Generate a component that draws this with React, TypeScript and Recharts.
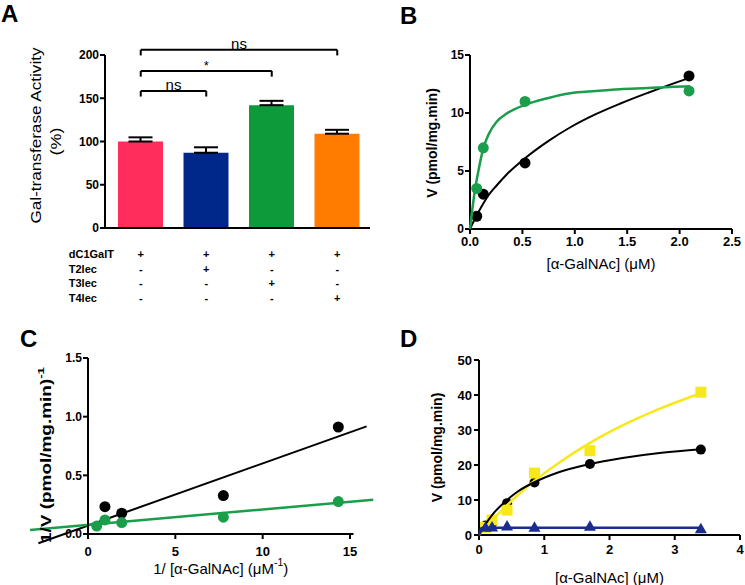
import { BarChart, Bar, Cell, ErrorBar, XAxis, YAxis, ReferenceLine, ScatterChart, Scatter } from 'recharts';

const FONT = '"Liberation Sans", Arial, sans-serif';

// ---- panel A : activity bars
const groups = ['ctrl', 'T2', 'T3', 'T4'];
const activity = [100, 87, 142, 109];
const activitySem = [4.8, 6.3, 5.0, 4.5];
const barColors = ['#ff2d5b', '#00288a', '#0c9a3a', '#ff7c00'];
const activityTicks = [0, 50, 100, 150, 200];
const rowLabels = ['dC1GalT', 'T2lec', 'T3lec', 'T4lec'];
const rowSigns = [
  ['+', '+', '+', '+'],
  ['-', '+', '-', '-'],
  ['-', '-', '+', '-'],
  ['-', '-', '-', '+'],
];
const brackets = [
  { from: 'ctrl', to: 'T4', y: 206, text: 'ns' },
  { from: 'ctrl', to: 'T3', y: 181.5, text: '*' },
  { from: 'ctrl', to: 'T2', y: 158.5, text: 'ns' },
];
const bracketDrop = 6.5;

// ---- panel B : Michaelis-Menten
const bConc = [0.064, 0.127, 0.525, 2.09];
const bBlack = [1.1, 3.0, 5.7, 13.2];
const bGreen = [3.5, 7.0, 11.0, 11.9];
const bFitX = [0, 0.048, 0.08, 0.127, 0.18, 0.254, 0.35, 0.525, 0.75, 0.954, 1.2, 1.43, 1.7, 1.91, 2.1];
const bFitBlack = [0, 0.9, 1.45, 2.2, 2.95, 3.75, 4.7, 6.1, 7.6, 8.75, 9.9, 10.8, 11.75, 12.45, 13.05];
const bFitGreen = [0, 3.4, 5.0, 6.95, 8.2, 9.25, 9.95, 10.7, 11.3, 11.7, 11.9, 12.05, 12.15, 12.25, 12.3];
const bXTicks = [0, 0.5, 1, 1.5, 2, 2.5];
const bYTicks = [0, 5, 10, 15];

// ---- panel C : Lineweaver-Burk
const cBlackX = [0.97, 1.93, 7.75, 14.33];
const cBlackY = [0.233, 0.177, 0.328, 0.912];
const cGreenX = [0.5, 0.97, 1.93, 7.75, 14.33];
const cGreenY = [0.068, 0.12, 0.097, 0.143, 0.276];
const cBlackFit = [{ x: -2.84, y: -0.079 }, { x: 15.95, y: 0.917 }];
const cGreenFit = [{ x: -3.32, y: 0.034 }, { x: 16.33, y: 0.292 }];
const cXTicks = [0, 5, 10, 15];
const cYTicks = [0, 0.5, 1, 1.5];

// ---- panel D : three enzymes
const dConc = [0.1, 0.2, 0.43, 0.85, 1.7, 3.4];
const dBlack = [2.7, 3.3, 9.1, 15.0, 20.3, 24.4];
const dYellow = [2.2, 4.3, 7.1, 17.7, 24.1, 40.8];
const dBlue = [2.2, 2.3, 2.6, 2.2, 2.5, 1.8];
const dFitX = [0, 0.1, 0.2, 0.43, 0.6, 0.85, 1.2, 1.7, 2.2, 2.8, 3.4];
const dFitBlack = [0, 3.1, 5.7, 10.0, 12.5, 15.1, 17.8, 20.3, 22.0, 23.5, 24.5];
const dFitYellow = [0, 2.2, 4.2, 8.5, 11.5, 15.5, 20.3, 26.3, 31.3, 36.3, 40.5];
const dBlueFitX = [0, 0.03, 0.06, 3.4];
const dBlueFitY = [0, 1.9, 2.1, 2.1];
const dXTicks = [0, 1, 2, 3, 4];
const dYTicks = [0, 10, 20, 30, 40, 50];

const GREEN = '#1b9e4b';
const YELLOW = '#f7e81a';
const NAVY = '#1a2d8f';

const zip = (xs: number[], ys: number[]) => xs.map((x, i) => ({ x, y: ys[i] }));

const barData = groups.map((g, i) => ({ g, v: activity[i], err: [0, activitySem[i]] }));

const axisLine = { stroke: '#000', strokeWidth: 2 };
const tickLine = { stroke: '#000', strokeWidth: 2 };

// bold numeric tick, GraphPad style
const NumTick = (props: any) => {
  const { x, y, payload, size, digits, side } = props;
  const label = digits != null ? Number(payload.value).toFixed(digits) : String(payload.value);
  return (
    <text x={x} y={y} dy={side === 'bottom' ? '0.72em' : '0.36em'} textAnchor={side === 'bottom' ? 'middle' : 'end'}
      fontFamily={FONT} fontSize={size} fontWeight={700} fill="#000">{label}</text>
  );
};

type Part = { t: string; sup?: boolean };
type TitleLine = { parts: Part[]; dist: number; shift?: number; size: number; bold?: boolean; length?: number };

const renderParts = (parts: Part[], size: number) => {
  let up = false;
  return parts.map((p, i) => {
    let dy = 0;
    if (p.sup && !up) { dy = -size * 0.4; up = true; }
    else if (!p.sup && up) { dy = size * 0.4; up = false; }
    return (
      <tspan key={i} dy={dy} fontSize={p.sup ? size * 0.7 : size}>{p.t}</tspan>
    );
  });
};

const YTitle = ({ viewBox, lines }: { viewBox?: any; lines: TitleLine[] }) => {
  if (!viewBox) return null;
  return (
    <g>
      {lines.map((ln, i) => {
        const cx = viewBox.x + viewBox.width - ln.dist;
        const cy = viewBox.y + viewBox.height / 2 + (ln.shift || 0);
        return (
          <text key={i} x={cx} y={cy} transform={`rotate(-90 ${cx} ${cy})`} textAnchor="middle"
            dominantBaseline="central" fontFamily={FONT} fontSize={ln.size} fontWeight={ln.bold ? 700 : 400}
            fill="#000" textLength={ln.length} lengthAdjust={ln.length ? 'spacingAndGlyphs' : undefined}>
            {renderParts(ln.parts, ln.size)}
          </text>
        );
      })}
    </g>
  );
};

const XTitle = ({ viewBox, line }: { viewBox?: any; line: TitleLine }) => {
  if (!viewBox) return null;
  const cx = viewBox.x + viewBox.width / 2 + (line.shift || 0);
  const cy = viewBox.y + line.dist;
  return (
    <text x={cx} y={cy} textAnchor="middle" dominantBaseline="central" fontFamily={FONT}
      fontSize={line.size} fontWeight={line.bold ? 700 : 400} fill="#000">
      {renderParts(line.parts, line.size)}
    </text>
  );
};

const SignTick = (props: any) => {
  const { x, y, payload } = props;
  const col = groups.indexOf(payload.value);
  const style = { fontFamily: FONT, fontSize: 11, fontWeight: 700, fill: '#000' };
  return (
    <g>
      {col === 0 && rowLabels.map((lab, r) => (
        <text key={lab} x={x - 72} y={y + 30 + r * 14.6} {...style}>{lab}</text>
      ))}
      {rowSigns.map((row, r) => (
        <text key={r} x={x} y={y + 30 + r * 14.6} textAnchor="middle" {...style}>{row[col]}</text>
      ))}
    </g>
  );
};

const dot = (color: string, r = 5.5) => (p: any) => <circle cx={p.cx} cy={p.cy} r={r} fill={color} />;
const square = (color: string) => (p: any) => <rect x={p.cx - 5.5} y={p.cy - 5.5} width={11} height={11} fill={color} />;
const triangle = (color: string) => (p: any) => (
  <polygon points={`${p.cx},${p.cy - 6} ${p.cx - 6},${p.cy + 4.5} ${p.cx + 6},${p.cy + 4.5}`} fill={color} />
);
const noMark = () => <g />;

const panelLetter = (text: string, left: number, top: number) => (
  <div style={{ position: 'absolute', left, top, fontFamily: FONT, fontWeight: 700, fontSize: 24, lineHeight: '24px' }}>{text}</div>
);

const PanelA = () => (
  <BarChart width={380} height={310} data={barData} margin={{ top: 55, right: 10, left: 0, bottom: 0 }}>
    <XAxis dataKey="g" height={82} padding={{ left: 3, right: 0 }} axisLine={axisLine} tickLine={false}
      tickSize={0} tickMargin={0} interval={0} tick={<SignTick />} />
    <XAxis xAxisId="front" dataKey="g" hide padding={{ left: 3, right: 0 }} />
    <YAxis domain={[0, 200]} ticks={activityTicks} width={105} axisLine={axisLine}
      tickLine={tickLine} tickSize={5} tickMargin={1} interval={0}
      tick={<NumTick size={12} side="left" />}
      label={<YTitle lines={[
        { parts: [{ t: 'Gal-transferase Activity' }], dist: 69, shift: -6, size: 14.5, length: 176 },
        { parts: [{ t: '(%)' }], dist: 49, shift: 0, size: 14.5, length: 28 },
      ]} />} />
    <Bar dataKey="v" barSize={45} fill="transparent" isAnimationActive={false}>
      <ErrorBar dataKey="err" width={12} strokeWidth={2} stroke="#000" direction="y" isAnimationActive={false} />
    </Bar>
    <Bar dataKey="v" xAxisId="front" barSize={45} isAnimationActive={false}>
      {barData.map((d, i) => <Cell key={d.g} fill={barColors[i]} />)}
    </Bar>
    {brackets.map((b) => (
      <ReferenceLine key={b.to} segment={[{ x: b.from, y: b.y }, { x: b.to, y: b.y }]} stroke="#000"
        strokeWidth={2} ifOverflow="visible"
        label={{ value: b.text, position: 'top', offset: 1, fontSize: b.text === '*' ? 13 : 15, fill: '#000', fontFamily: FONT }} />
    ))}
    {brackets.map((b) => (
      <ReferenceLine key={b.to + 'l'} segment={[{ x: b.from, y: b.y }, { x: b.from, y: b.y - bracketDrop }]}
        stroke="#000" strokeWidth={2} ifOverflow="visible" />
    ))}
    {brackets.map((b) => (
      <ReferenceLine key={b.to + 'r'} segment={[{ x: b.to, y: b.y }, { x: b.to, y: b.y - bracketDrop }]}
        stroke="#000" strokeWidth={2} ifOverflow="visible" />
    ))}
  </BarChart>
);

const PanelB = () => (
  <ScatterChart width={365} height={300} margin={{ top: 55, right: 13, left: 0, bottom: 0 }}>
    <XAxis dataKey="x" type="number" domain={[0, 2.5]} ticks={bXTicks} height={71} axisLine={axisLine}
      tickLine={tickLine} tickSize={5} tickMargin={3} interval={0}
      tick={<NumTick size={13} side="bottom" digits={1} />}
      label={<XTitle line={{ parts: [{ t: '[α-GalNAc] (μM)' }], dist: 34, size: 15 }} />} />
    <YAxis dataKey="y" type="number" domain={[0, 15]} ticks={bYTicks} width={90} axisLine={axisLine}
      tickLine={tickLine} tickSize={5} tickMargin={1} interval={0} tick={<NumTick size={12} side="left" />}
      label={<YTitle lines={[{ parts: [{ t: 'V (pmol/mg.min)' }], dist: 38, shift: 1, size: 14, bold: true }]} />} />
    <Scatter data={zip(bConc, bBlack)} shape={dot('#000')} isAnimationActive={false} />
    <Scatter data={zip(bFitX, bFitBlack)} shape={noMark} line={{ stroke: '#000', strokeWidth: 2 }}
      lineJointType="monotoneX" isAnimationActive={false} />
    <Scatter data={zip(bConc, bGreen)} shape={dot(GREEN)} isAnimationActive={false} />
    <Scatter data={zip(bFitX, bFitGreen)} shape={noMark} line={{ stroke: GREEN, strokeWidth: 2.5 }}
      lineJointType="monotoneX" isAnimationActive={false} />
  </ScatterChart>
);

const PanelC = () => (
  <ScatterChart width={380} height={285} margin={{ top: 58, right: 26.5, left: 0, bottom: 0 }}>
    <XAxis dataKey="x" type="number" domain={[0, 15.2]} ticks={cXTicks} height={51} axisLine={axisLine}
      tickLine={tickLine} tickSize={5} tickMargin={8} interval={0} tick={<NumTick size={13} side="bottom" />}
      label={<XTitle line={{ parts: [{ t: '1/ [α-GalNAc] (μM' }, { t: '-1', sup: true }, { t: ')' }], dist: 34, size: 15 }} />} />
    <YAxis dataKey="y" type="number" domain={[0, 1.5]} ticks={cYTicks} width={88} axisLine={axisLine}
      tickLine={tickLine} tickSize={5} tickMargin={1} interval={0}
      tick={<NumTick size={12} side="left" digits={1} />}
      label={<YTitle lines={[{ parts: [{ t: '1/V (pmol/mg.min)' }, { t: '-1', sup: true }], dist: 42, shift: 9, size: 14, bold: true, length: 176 }]} />} />
    <Scatter data={zip(cBlackX, cBlackY)} shape={dot('#000')} isAnimationActive={false} />
    <Scatter data={zip(cGreenX, cGreenY)} shape={dot(GREEN)} isAnimationActive={false} />
    <ReferenceLine segment={cBlackFit} stroke="#000" strokeWidth={2} ifOverflow="visible" />
    <ReferenceLine segment={cGreenFit} stroke={GREEN} strokeWidth={2.5} ifOverflow="visible" />
  </ScatterChart>
);

const PanelD = () => (
  <ScatterChart width={365} height={285} margin={{ top: 60, right: 5, left: 0, bottom: 0 }}>
    <XAxis dataKey="x" type="number" domain={[0, 4]} ticks={dXTicks} height={50} axisLine={axisLine}
      tickLine={tickLine} tickSize={5} tickMargin={5} interval={0} tick={<NumTick size={13} side="bottom" />}
      label={<XTitle line={{ parts: [{ t: '[α-GalNAc] (μM)' }], dist: 42, size: 15 }} />} />
    <YAxis dataKey="y" type="number" domain={[0, 50]} ticks={dYTicks} width={99} axisLine={axisLine}
      tickLine={tickLine} tickSize={5} tickMargin={2} interval={0} tick={<NumTick size={13} side="left" />}
      label={<YTitle lines={[{ parts: [{ t: 'V (pmol/mg.min)' }], dist: 42, shift: 0, size: 14, bold: true }]} />} />
    <Scatter data={zip(dConc, dBlack)} shape={dot('#000', 5)} isAnimationActive={false} />
    <Scatter data={zip(dConc, dYellow)} shape={square(YELLOW)} isAnimationActive={false} />
    <Scatter data={zip(dFitX, dFitYellow)} shape={noMark} line={{ stroke: YELLOW, strokeWidth: 2.5 }}
      lineJointType="monotoneX" isAnimationActive={false} />
    <Scatter data={zip(dFitX, dFitBlack)} shape={noMark} line={{ stroke: '#000', strokeWidth: 2 }}
      lineJointType="monotoneX" isAnimationActive={false} />
    <Scatter data={zip(dConc, dBlue)} shape={triangle(NAVY)} isAnimationActive={false} />
    <Scatter data={zip(dBlueFitX, dBlueFitY)} shape={noMark} line={{ stroke: NAVY, strokeWidth: 2.5 }}
      isAnimationActive={false} />
  </ScatterChart>
);

const App = () => (
  <div style={{ position: 'absolute', left: 0, top: 0, width: 745, height: 585, background: '#fff', overflow: 'hidden' }}>
    <div style={{ position: 'absolute', left: 0, top: 0 }}><PanelA /></div>
    <div style={{ position: 'absolute', left: 380, top: 0 }}><PanelB /></div>
    <div style={{ position: 'absolute', left: 0, top: 300 }}><PanelC /></div>
    <div style={{ position: 'absolute', left: 380, top: 300 }}><PanelD /></div>
    {panelLetter('A', 1, 2)}
    {panelLetter('B', 400, 4)}
    {panelLetter('C', 20, 327)}
    {panelLetter('D', 400, 327)}
  </div>
);

export default App;
